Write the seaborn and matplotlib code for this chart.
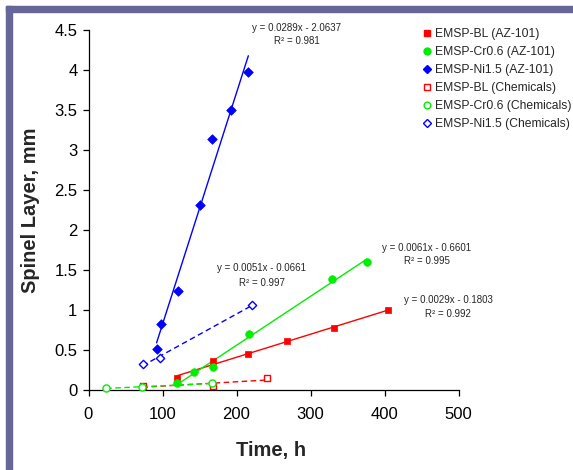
import numpy as np
import pandas as pd
import matplotlib
matplotlib.use("Agg")
import matplotlib.pyplot as plt
from matplotlib.lines import Line2D
from matplotlib.patches import Rectangle
from matplotlib.ticker import FuncFormatter, MultipleLocator
import seaborn as sns

# ---------------- data ----------------
bl_az_x = [120, 168, 216, 268, 332, 405]
bl_az_y = [0.15, 0.36, 0.445, 0.61, 0.78, 1.00]

cr_az_x = [120, 143, 168, 217, 329, 376]
cr_az_y = [0.09, 0.22, 0.29, 0.70, 1.39, 1.60]

ni_az_x = [92, 98, 121, 150, 167, 193, 216]
ni_az_y = [0.51, 0.82, 1.24, 2.31, 3.14, 3.50, 3.98]

bl_ch_x = [73, 168, 241]
bl_ch_y = [0.05, 0.05, 0.145]

cr_ch_x = [24, 72, 167]
cr_ch_y = [0.025, 0.034, 0.084]

ni_ch_x = [73, 96, 221]
ni_ch_y = [0.32, 0.40, 1.06]

labels = ["EMSP-BL (AZ-101)", "EMSP-Cr0.6 (AZ-101)", "EMSP-Ni1.5 (AZ-101)",
          "EMSP-BL (Chemicals)", "EMSP-Cr0.6 (Chemicals)", "EMSP-Ni1.5 (Chemicals)"]

eq_texts = ["y = 0.0289x - 2.0637", "y = 0.0051x - 0.0661",
            "y = 0.0061x - 0.6601", "y = 0.0029x - 0.1803"]
r2_texts = ["R² = 0.981", "R² = 0.997", "R² = 0.995", "R² = 0.992"]
# label anchor positions in data units (eq line, R² line)
eq_pos_x = [281, 234, 457, 486]
eq_pos_y = [4.52, 1.525, 1.77, 1.125]
r2_pos_y = [4.36, 1.34, 1.61, 0.946]

x_ticks = [0, 100, 200, 300, 400, 500]
y_max = 4.5

RED, GREEN, BLUE = "#FF0000", "#00EE00", "#0000FF"
BORDER = "#666699"

# ---------------- style ----------------
sns.set_style("ticks")
plt.rcParams["font.family"] = ["Liberation Sans", "DejaVu Sans"]

W, H = 573, 470
fig = plt.figure(figsize=(W / 100, H / 100), dpi=100)
fig.patch.set_facecolor("white")
ax = fig.add_axes([88.5 / W, 80 / H, 370 / W, 360 / H])

series = [
    (bl_az_x, bl_az_y, RED, "s", True, 20),
    (cr_az_x, cr_az_y, GREEN, "o", True, 30),
    (ni_az_x, ni_az_y, BLUE, "D", True, 24),
    (bl_ch_x, bl_ch_y, RED, "s", False, 24),
    (cr_ch_x, cr_ch_y, GREEN, "o", False, 26),
    (ni_ch_x, ni_ch_y, BLUE, "D", False, 18),
]
legend_sizes = [4.6, 5.0, 4.0, 4.6, 4.8, 3.8]

# trend lines
for x, y, c, m, filled, s in series:
    df = pd.DataFrame({"x": x, "y": y})
    ls = "-" if filled else (0, (4, 2.5))
    sns.regplot(data=df, x="x", y="y", ax=ax, scatter=False, ci=None,
                truncate=True, line_kws=dict(color=c, lw=1.0, ls=ls, zorder=2))

# markers
for x, y, c, m, filled, s in series:
    df = pd.DataFrame({"x": x, "y": y})
    if filled:
        sns.scatterplot(data=df, x="x", y="y", ax=ax, marker=m, s=s, color=c,
                        edgecolor=c, linewidth=0.5, zorder=3, clip_on=False)
    else:
        sns.scatterplot(data=df, x="x", y="y", ax=ax, marker=m, s=s,
                        facecolor="white", edgecolor=c, linewidth=1.0,
                        zorder=3, clip_on=False)

# trendline equations
for t, r, px, py, ry in zip(eq_texts, r2_texts, eq_pos_x, eq_pos_y, r2_pos_y):
    ax.text(px, py, t, fontsize=7, ha="center", va="center", clip_on=False)
    ax.text(px, ry, r, fontsize=7, ha="center", va="center", clip_on=False)

ax.set_xlim(0, 500)
ax.set_ylim(0, y_max)
ax.set_xticks(x_ticks)
ax.yaxis.set_major_locator(MultipleLocator(0.5))
ax.yaxis.set_major_formatter(FuncFormatter(lambda v, p: f"{v:g}"))
ax.set_xlabel("")
ax.set_ylabel("")
for sp in ["top", "right"]:
    ax.spines[sp].set_visible(False)
for sp in ["left", "bottom"]:
    ax.spines[sp].set_color("black")
    ax.spines[sp].set_linewidth(0.9)
ax.tick_params(axis="both", direction="out", length=4, width=0.9,
               colors="black", labelsize=12)
ax.tick_params(axis="x", pad=8)
ax.tick_params(axis="y", pad=4)

fig.text(271.5 / W, 1 - 456 / H, "Time, h", fontsize=14.5, fontweight="bold",
         ha="center", va="baseline")
fig.text(31 / W, 1 - 210 / H, "Spinel Layer, mm", fontsize=14.5,
         fontweight="bold", rotation=90, ha="center", va="center")

# legend
handles = []
for (x, y, c, m, filled, s), ms in zip(series, legend_sizes):
    handles.append(Line2D([], [], ls="none", marker=m, markersize=ms,
                          markerfacecolor=c if filled else "white",
                          markeredgecolor=c, markeredgewidth=1.0))
fig.legend(handles, labels, loc="upper left",
           bbox_to_anchor=(422 / W, 1 - 28 / H), bbox_transform=fig.transFigure,
           frameon=False, fontsize=8.7, handlelength=0.8, handletextpad=0.3,
           borderpad=0, borderaxespad=0, labelspacing=0.5)

# decorative frame (left and top bars)
fig.patches.append(Rectangle((6 / W, 0), 6 / W, 1 - 6 / H,
                             transform=fig.transFigure, color=BORDER, zorder=0))
fig.patches.append(Rectangle((6 / W, 1 - 12 / H), 1 - 6 / W, 6 / H,
                             transform=fig.transFigure, color=BORDER, zorder=0))

fig.savefig("out.png", dpi=100)
